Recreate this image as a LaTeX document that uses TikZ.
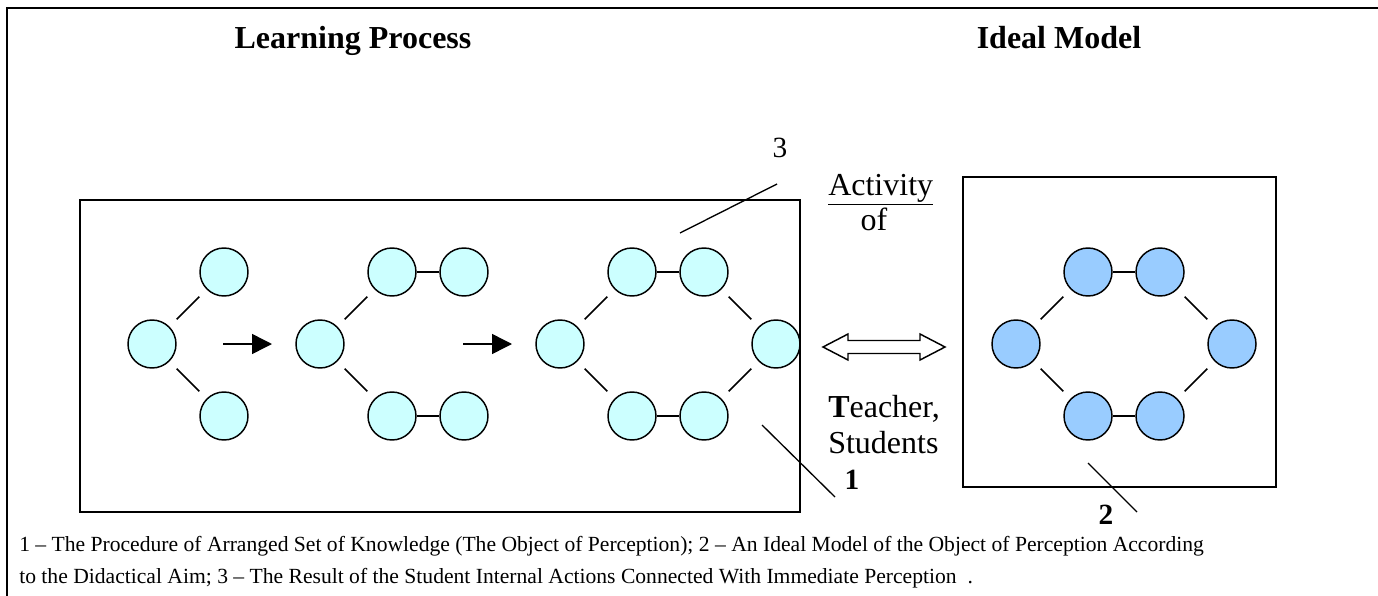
\documentclass[tikz,border=0pt]{standalone}
\usepackage{fontspec}
\setmainfont{Liberation Serif}
\usetikzlibrary{arrows.meta}
\definecolor{lcyan}{HTML}{CCFFFF}
\definecolor{lblue}{HTML}{99CCFF}
\begin{document}
\begin{tikzpicture}[x=0.75pt,y=-0.75pt,
  lp/.style={circle,draw,line width=1.1pt,fill=lcyan,minimum size=36pt,inner sep=0pt},
  im/.style={lp,fill=lblue},
  diag/.style={line width=1.1pt,shorten >=7.6pt,shorten <=7.6pt},
  hor/.style={line width=1.1pt},
  boxframe/.style={draw,line width=1.4pt},
  stepar/.style={line width=1.1pt,-{Triangle[length=15pt,width=15pt]}},
  ptr/.style={line width=1pt},
  headtxt/.style={font=\fontsize{24}{28}\selectfont\bfseries,anchor=base},
  lab/.style={font=\fontsize{24}{28}\selectfont,anchor=base west,inner sep=0pt},
  digit/.style={font=\fontsize{22}{26}\selectfont,anchor=base},
  captxt/.style={font=\fontsize{16.2}{19}\selectfont,anchor=base west,inner sep=0pt}]
\useasboundingbox (0,0) rectangle (1378,596);
% outer frame
\draw[line width=1.5pt] (7,596) -- (7,8) -- (1378,8);
% headings
\node[headtxt] (h1) at (353,48) {Learning Process};
\node[headtxt] (h2) at (1059,48) {Ideal Model};
% boxes
\draw[boxframe] (80,200) rectangle (800,512);
\draw[boxframe] (963,177) rectangle (1276,487);
% group 1
\node[lp] (A1) at (152,344) {};
\node[lp] (A2) at (224,272) {};
\node[lp] (A3) at (224,416) {};
\draw[diag] (A1) -- (A2);
\draw[diag] (A1) -- (A3);
\coordinate (r1s) at (223,344);
\coordinate (r1e) at (272,344);
\draw[stepar] (r1s) -- (r1e);
% group 2
\node[lp] (B1) at (320,344) {};
\node[lp] (B2) at (392,272) {};
\node[lp] (B3) at (464,272) {};
\node[lp] (B4) at (392,416) {};
\node[lp] (B5) at (464,416) {};
\draw[diag] (B1) -- (B2);
\draw[diag] (B1) -- (B4);
\draw[hor] (B2) -- (B3);
\draw[hor] (B4) -- (B5);
\coordinate (r2s) at (463,344);
\coordinate (r2e) at (512,344);
\draw[stepar] (r2s) -- (r2e);
% group 3
\node[lp] (C1) at (560,344) {};
\node[lp] (C2) at (632,272) {};
\node[lp] (C3) at (704,272) {};
\node[lp] (C4) at (776,344) {};
\node[lp] (C5) at (632,416) {};
\node[lp] (C6) at (704,416) {};
\draw[diag] (C1) -- (C2);
\draw[diag] (C1) -- (C5);
\draw[diag] (C3) -- (C4);
\draw[diag] (C6) -- (C4);
\draw[hor] (C2) -- (C3);
\draw[hor] (C5) -- (C6);
% group 4 (ideal model)
\node[im] (D1) at (1016,344) {};
\node[im] (D2) at (1088,272) {};
\node[im] (D3) at (1160,272) {};
\node[im] (D4) at (1232,344) {};
\node[im] (D5) at (1088,416) {};
\node[im] (D6) at (1160,416) {};
\draw[diag] (D1) -- (D2);
\draw[diag] (D1) -- (D5);
\draw[diag] (D3) -- (D4);
\draw[diag] (D6) -- (D4);
\draw[hor] (D2) -- (D3);
\draw[hor] (D5) -- (D6);
% double arrow
\draw[line width=1.1pt,fill=white] (823,347) -- (848,334) -- (848,340.5) -- (920,340.5) -- (920,334) -- (945,347) -- (920,360) -- (920,353.5) -- (848,353.5) -- (848,360) -- cycle;
% labels
\node[digit] (n3) at (780,157) {3};
\node[lab] (act) at (828,195) {\underline{Activity}};
\node[font=\fontsize{24}{28}\selectfont,anchor=base] (of) at (874,230) {of};
\node[lab] (tea) at (828,417) {\textbf{T}eacher,};
\node[lab] (stu) at (828,453) {Students};
\node[digit,font=\fontsize{22}{26}\selectfont\bfseries] (n1) at (852,489) {1};
\node[digit,font=\fontsize{22}{26}\selectfont\bfseries] (n2) at (1106,524) {2};
% pointer lines
\coordinate (p3a) at (680,233);
\coordinate (p3b) at (777,184);
\draw[ptr] (p3a) -- (p3b);
\coordinate (p1a) at (762,425);
\coordinate (p1b) at (835,497);
\draw[ptr] (p1a) -- (p1b);
\coordinate (p2a) at (1088,463);
\coordinate (p2b) at (1137,512);
\draw[ptr] (p2a) -- (p2b);
% caption
\node[captxt] (c1) at (19,551) {1 -- The Procedure of Arranged Set of Knowledge (The Object of Perception); 2 -- An Ideal Model of the Object of Perception According};
\node[captxt] (c2) at (19,583) {to the Didactical Aim; 3 -- The Result of the Student Internal Actions Connected With Immediate Perception\enspace.};
\end{tikzpicture}
\end{document}
